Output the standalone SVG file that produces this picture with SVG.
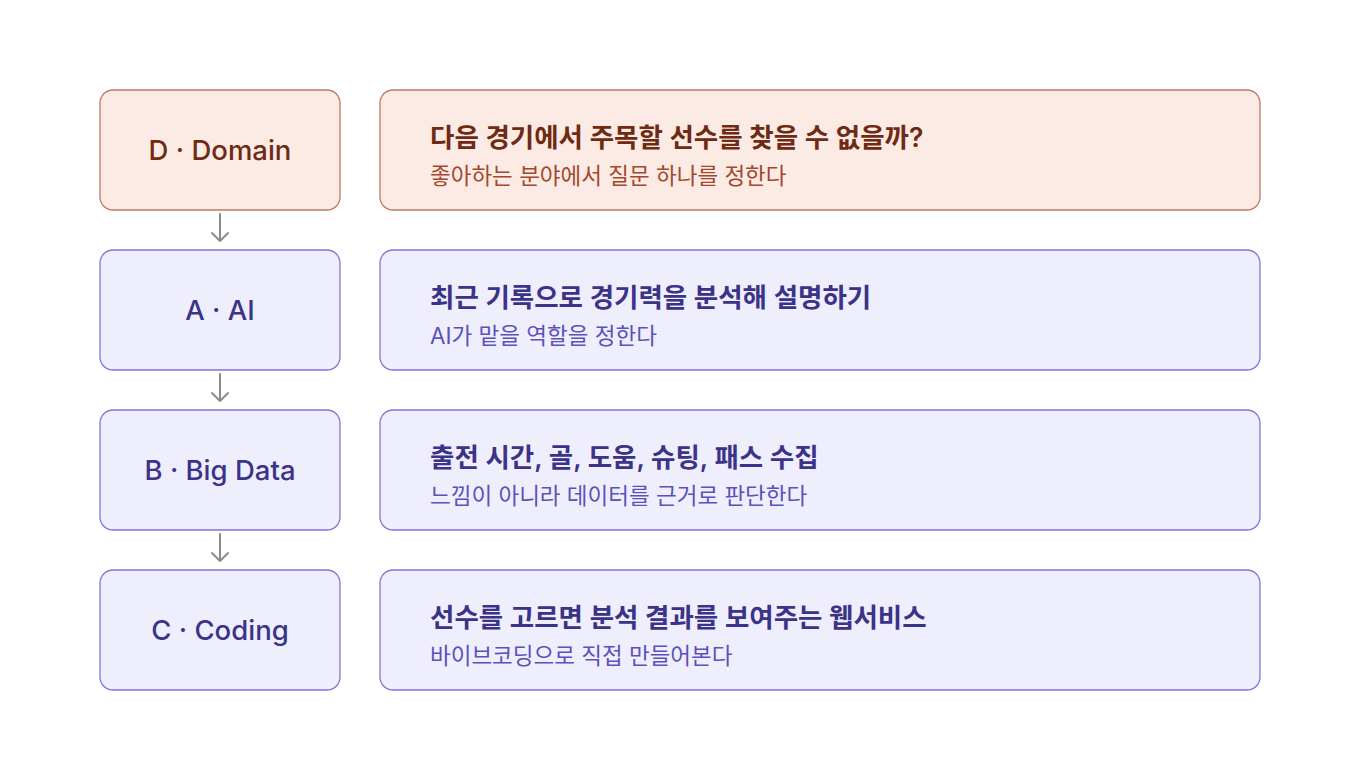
<svg xmlns="http://www.w3.org/2000/svg" width="1360" height="770" viewBox="0 0 1360 770">
<style>
text{font-family:Inter,"Noto Sans CJK KR",sans-serif}
.bg{fill:#ffffff}
.dbox{fill:#fcebe5;stroke:#c07a62;stroke-width:1.3}
.pbox{fill:#efeefd;stroke:#7f78d4;stroke-width:1.3}
.lbl{font-size:27.5px;font-weight:500;text-anchor:middle}
.ttl{font-size:26.5px;font-weight:600}
.sub{font-size:22.5px;font-weight:400}
.dt{fill:#6e2a12}
.ds{fill:#a3482b}
.pt{fill:#3b3388}
.ps{fill:#5a52ba}
.conn{stroke:#8c8c86;stroke-width:2;fill:none;stroke-linecap:round;stroke-linejoin:round}
</style>
<rect class="bg" x="0" y="0" width="1360" height="770"/>
<g id="connectors">
<path class="conn" d="M220 214V241M212 233L220 241L228 233"/>
<path class="conn" d="M220 374V401M212 393L220 401L228 393"/>
<path class="conn" d="M220 534V561M212 553L220 561L228 553"/>
</g>
<g id="node-d">
<rect class="dbox" x="100" y="90" width="240" height="120" rx="13"/>
<text class="lbl dt" x="220" y="160">D · Domain</text>
</g>
<g id="detail-d">
<rect class="dbox" x="380" y="90" width="880" height="120" rx="13"/>
<text class="ttl dt" x="430" y="147">다음 경기에서 주목할 선수를 찾을 수 없을까?</text>
<text class="sub ds" x="430" y="184">좋아하는 분야에서 질문 하나를 정한다</text>
</g>
<g id="node-a">
<rect class="pbox" x="100" y="250" width="240" height="120" rx="13"/>
<text class="lbl pt" x="220" y="320">A · AI</text>
</g>
<g id="detail-a">
<rect class="pbox" x="380" y="250" width="880" height="120" rx="13"/>
<text class="ttl pt" x="430" y="307">최근 기록으로 경기력을 분석해 설명하기</text>
<text class="sub ps" x="430" y="344">AI가 맡을 역할을 정한다</text>
</g>
<g id="node-b">
<rect class="pbox" x="100" y="410" width="240" height="120" rx="13"/>
<text class="lbl pt" x="220" y="480">B · Big Data</text>
</g>
<g id="detail-b">
<rect class="pbox" x="380" y="410" width="880" height="120" rx="13"/>
<text class="ttl pt" x="430" y="467">출전 시간, 골, 도움, 슈팅, 패스 수집</text>
<text class="sub ps" x="430" y="504">느낌이 아니라 데이터를 근거로 판단한다</text>
</g>
<g id="node-c">
<rect class="pbox" x="100" y="570" width="240" height="120" rx="13"/>
<text class="lbl pt" x="220" y="640">C · Coding</text>
</g>
<g id="detail-c">
<rect class="pbox" x="380" y="570" width="880" height="120" rx="13"/>
<text class="ttl pt" x="430" y="627">선수를 고르면 분석 결과를 보여주는 웹서비스</text>
<text class="sub ps" x="430" y="664">바이브코딩으로 직접 만들어본다</text>
</g>
</svg>
